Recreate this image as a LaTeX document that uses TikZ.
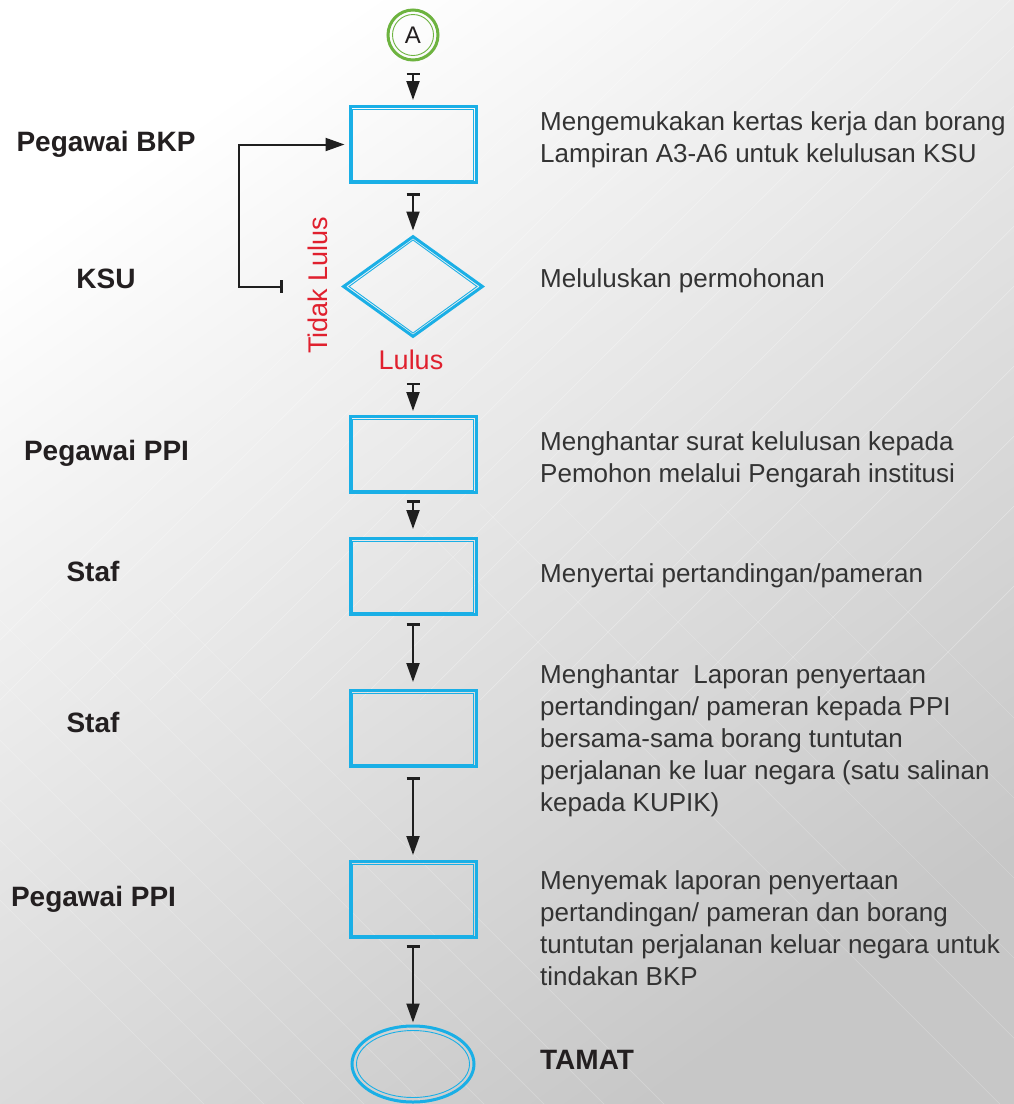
\documentclass[tikz,border=0pt]{standalone}
\usepackage{fontspec}
\setmainfont{Liberation Sans}
\usetikzlibrary{arrows.meta,shapes.geometric}
\definecolor{flowblue}{HTML}{1AAFE6}
\definecolor{flowgreen}{HTML}{6DB33F}
\definecolor{flowred}{HTML}{E0202E}
\definecolor{desctext}{HTML}{333333}
\definecolor{lbltext}{HTML}{231F20}
\tikzset{
  procbox/.style={draw=flowblue, line width=3pt, minimum width=126pt, minimum height=76pt, inner sep=0pt},
  innerline/.style={draw=flowblue, line width=0.9pt},
  decision/.style={diamond, draw=flowblue, line width=3pt, minimum width=140pt, minimum height=101pt, inner sep=0pt, aspect=1.4},
  startcirc/.style={circle, draw=flowgreen, line width=3pt, minimum size=50pt, inner sep=0pt, text=lbltext, font=\fontsize{24}{24}\selectfont},
  endell/.style={ellipse, draw=flowblue, line width=3pt, minimum width=122pt, minimum height=76pt, inner sep=0pt},
  flow/.style={draw=black!88, line width=2pt, arrows={Bar[width=13pt,line width=2.6pt]-Triangle[width=13pt,length=19pt]}},
  role/.style={text=lbltext, font=\bfseries\fontsize{28}{32}\selectfont, anchor=base, inner sep=0pt},
  desc/.style={text=desctext, font=\fontsize{26}{32}\selectfont, anchor=base west, align=left, inner sep=0pt},
  redlbl/.style={text=flowred, font=\fontsize{27}{32}\selectfont, anchor=base, inner sep=0pt}
}
\begin{document}
\begin{tikzpicture}[x=1pt,y=-1pt]
% background
\shade[top color=white, bottom color=black!22, shading angle=35] (0,0) rectangle (1014,1104);
\useasboundingbox (0,0) rectangle (1014,1104);
\begin{scope}
\clip (0,0) rectangle (1014,1104);
\foreach \s in {640,700,760,790,850,900,960,1010,1060,1120,1180,1240,1300,1380,1450,1520,1600}
  \draw[white, opacity=0.3, line width=0.7pt] (\s,0) -- ++(-700,700);
\foreach \s in {-300,-240,-200,-140,-80,-20,40,100,160}
  \draw[white, opacity=0.22, line width=0.7pt] (\s,600) -- ++(600,600);
\foreach \s in {1000,1080,1160,1240,1320,1400}
  \draw[white, opacity=0.2, line width=0.7pt] (\s,1104) -- ++(-600,-600);
\end{scope}

% nodes
\node[startcirc] (A) at (413,35) {A};
\draw[flowgreen, line width=0.9pt] (A.center) circle[radius=20.5pt];

\node[procbox] (b1) at (413,144.5) {};
\node[decision] (d) at (413,286.5) {};
\node[procbox] (b3) at (413,454.5) {};
\node[procbox] (b4) at (413,576.5) {};
\node[procbox] (b5) at (413,728.5) {};
\node[procbox] (b6) at (413,899.5) {};
\node[endell] (e) at (413,1064) {};

\foreach \n in {b1,b3,b4,b5,b6}
  \draw[innerline] ([xshift=4pt,yshift=-4pt]\n.north west) rectangle ([xshift=-4pt,yshift=4pt]\n.south east);
\draw[innerline] ([yshift=-5.5pt]d.north) -- ([xshift=-7.5pt]d.east) -- ([yshift=5.5pt]d.south) -- ([xshift=7.5pt]d.west) -- cycle;
\draw[innerline] (e.center) ellipse[x radius=56.5pt, y radius=33.5pt];

% connectors
\draw[flow, shorten <=11pt, shorten >=5pt] (A) -- (b1);
\draw[flow, shorten <=9pt, shorten >=4pt] (b1) -- (d);
\draw[flow, shorten <=44pt, shorten >=4pt] (d) -- (b3);
\draw[flow, shorten <=6pt, shorten >=8pt] (b3) -- (b4);
\draw[flow, shorten <=7pt, shorten >=7pt] (b4) -- (b5);
\draw[flow, shorten <=9pt, shorten >=5pt] (b5) -- (b6);
\draw[flow, shorten <=6pt, shorten >=2pt] (b6) -- (e);

\coordinate (fbstart) at (283,286.5);
\coordinate (fbcorner) at (239,286.5);
\draw[flow, shorten >=4pt] (fbstart) -- (fbcorner) |- (b1.west);

% decision labels
\node[redlbl] (lulus) at (411,369.5) {Lulus};
\node[redlbl, rotate=90] (tidak) at (327,285) {Tidak Lulus};

% role labels
\node[role] (r1) at (106,151) {Pegawai BKP};
\node[role] (r2) at (106,288) {KSU};
\node[role] (r3) at (106.5,460) {Pegawai PPI};
\node[role] (r4) at (93,581) {Staf};
\node[role] (r5) at (93,732) {Staf};
\node[role] (r6) at (93.5,906) {Pegawai PPI};

% descriptions (anchor = baseline of last line)
\node[desc] (t1) at (540,162) {Mengemukakan kertas kerja dan borang\\Lampiran A3-A6 untuk kelulusan KSU};
\node[desc] (t2) at (540,287) {Meluluskan permohonan};
\node[desc] (t3) at (540,482) {Menghantar surat kelulusan kepada\\Pemohon melalui Pengarah institusi};
\node[desc] (t4) at (540,582) {Menyertai pertandingan/pameran};
\node[desc] (t5) at (540,811) {Menghantar\ \ Laporan penyertaan\\pertandingan/ pameran kepada PPI\\bersama-sama borang tuntutan\\perjalanan ke luar negara (satu salinan\\kepada KUPIK)};
\node[desc] (t6) at (540,985) {Menyemak laporan penyertaan\\pertandingan/ pameran dan borang\\tuntutan perjalanan keluar negara untuk\\tindakan BKP};
\node[role, anchor=base west] (t7) at (540,1069) {TAMAT};
\end{tikzpicture}
\end{document}
